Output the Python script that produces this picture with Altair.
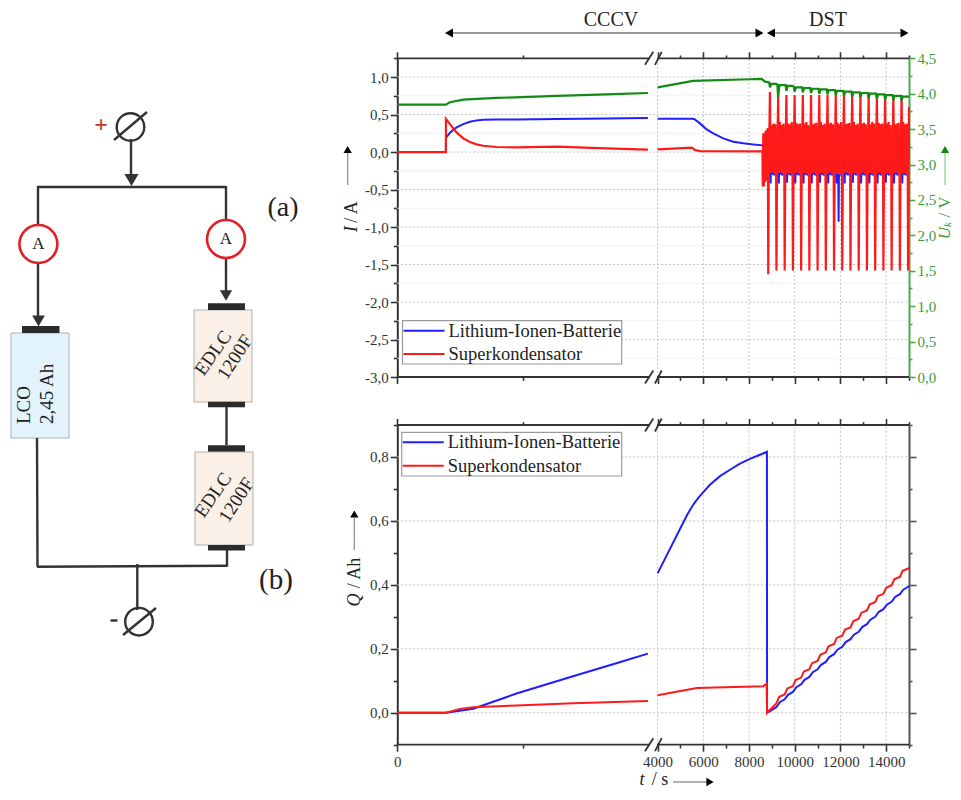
import altair as alt
import pandas as pd

# ------------------ data ------------------
# current I / A, left segment of the broken axis
bat_i_t_left = [0, 775, 776, 839, 945, 1052, 1158, 1264, 1370, 1582, 1901, 2538, 3334, 3998]
bat_i_left = [0, 0, 0.19, 0.257, 0.328, 0.373, 0.404, 0.422, 0.43, 0.435, 0.435, 0.44, 0.448, 0.453]
sc_i_t_left = [0, 775, 776, 839, 945, 1052, 1158, 1264, 1370, 1582, 1901, 2538, 3334, 3998]
sc_i_left = [0, 0, 0.44, 0.373, 0.262, 0.182, 0.133, 0.102, 0.084, 0.067, 0.062, 0.071, 0.049, 0.031]
u_t_left = [0, 775, 839, 1052, 1582, 2538, 3334, 3998]
u_left = [3.846, 3.846, 3.88, 3.917, 3.94, 3.97, 3.99, 4.01]

# current I / A, right segment (CCCV tail and DST cycles)
bat_i_t_right = [4000, 5500, 5600, 5854, 6147, 6436, 6874, 7311, 7749, 8186, 8596, 8620, 8700, 8840,
    8920, 8945, 8965, 8985, 9030, 9080,
    9280, 9305, 9325, 9345, 9390, 9440,
    9640, 9665, 9685, 9705, 9750, 9800,
    10000, 10025, 10045, 10065, 10110, 10160,
    10360, 10385, 10405, 10425, 10470, 10520,
    10720, 10745, 10765, 10785, 10830, 10880,
    11080, 11105, 11125, 11145, 11190, 11240,
    11440, 11465, 11485, 11505, 11550, 11600,
    11800, 11825, 11845, 11865, 11905, 11920, 11935, 11990,
    12160, 12185, 12205, 12225, 12270, 12320,
    12520, 12545, 12565, 12585, 12630, 12680,
    12880, 12905, 12925, 12945, 12990, 13040,
    13240, 13265, 13285, 13305, 13350, 13400,
    13600, 13625, 13645, 13665, 13710, 13760,
    13960, 13985, 14005, 14025, 14070, 14120,
    14320, 14345, 14365, 14385, 14430, 14480,
    14680, 14705, 14725, 14745, 14790, 14840,
    15000]
bat_i_right = [0.445, 0.445, 0.44, 0.382, 0.302, 0.249, 0.182, 0.137, 0.116, 0.102, 0.089, 0.0, -0.3, -0.3,
    -0.30, -0.42, -0.13, -0.30, -0.26, -0.30,
    -0.30, -0.42, -0.13, -0.30, -0.26, -0.30,
    -0.30, -0.41, -0.12, -0.30, -0.25, -0.30,
    -0.30, -0.42, -0.13, -0.30, -0.26, -0.30,
    -0.30, -0.42, -0.13, -0.30, -0.26, -0.30,
    -0.30, -0.42, -0.12, -0.30, -0.25, -0.30,
    -0.30, -0.41, -0.13, -0.30, -0.26, -0.30,
    -0.30, -0.42, -0.13, -0.30, -0.26, -0.30,
    -0.30, -0.42, -0.13, -0.30, -0.30, -0.93, -0.30, -0.30,
    -0.30, -0.42, -0.13, -0.30, -0.26, -0.30,
    -0.30, -0.41, -0.12, -0.30, -0.25, -0.30,
    -0.30, -0.42, -0.13, -0.30, -0.26, -0.30,
    -0.30, -0.42, -0.13, -0.30, -0.26, -0.30,
    -0.30, -0.42, -0.12, -0.30, -0.25, -0.30,
    -0.30, -0.41, -0.13, -0.30, -0.26, -0.30,
    -0.30, -0.42, -0.13, -0.30, -0.26, -0.30,
    -0.30, -0.42, -0.13, -0.30, -0.26, -0.30,
    -0.30]
sc_i_t_right = [4000, 5490, 5635, 5854, 8590,
    8600, 8625, 8650, 8675, 8700, 8725, 8750, 8775, 8800, 8825,
    8840, 8865, 8915, 8950, 8990, 9030, 9070, 9110, 9150, 9185,
    9200, 9225, 9275, 9310, 9350, 9390, 9430, 9470, 9510, 9545,
    9560, 9585, 9635, 9670, 9710, 9750, 9790, 9830, 9870, 9905,
    9920, 9945, 9995, 10030, 10070, 10110, 10150, 10190, 10230, 10265,
    10280, 10305, 10355, 10390, 10430, 10470, 10510, 10550, 10590, 10625,
    10640, 10665, 10715, 10750, 10790, 10830, 10870, 10910, 10950, 10985,
    11000, 11025, 11075, 11110, 11150, 11190, 11230, 11270, 11310, 11345,
    11360, 11385, 11435, 11470, 11510, 11550, 11590, 11630, 11670, 11705,
    11720, 11745, 11795, 11830, 11870, 11910, 11950, 11990, 12030, 12065,
    12080, 12105, 12155, 12190, 12230, 12270, 12310, 12350, 12390, 12425,
    12440, 12465, 12515, 12550, 12590, 12630, 12670, 12710, 12750, 12785,
    12800, 12825, 12875, 12910, 12950, 12990, 13030, 13070, 13110, 13145,
    13160, 13185, 13235, 13270, 13310, 13350, 13390, 13430, 13470, 13505,
    13520, 13545, 13595, 13630, 13670, 13710, 13750, 13790, 13830, 13865,
    13880, 13905, 13955, 13990, 14030, 14070, 14110, 14150, 14190, 14225,
    14240, 14265, 14315, 14350, 14390, 14430, 14470, 14510, 14550, 14585,
    14600, 14625, 14675, 14710, 14750, 14790, 14830, 14870, 14910, 14945,
    14960, 14985, 15000]
sc_i_right = [0.035, 0.058, 0.027, 0.013, 0.01,
    -0.46, 0.25, -0.46, 0.25, -0.40, 0.28, -0.38, 0.30, -0.36, 0.32,
    -1.63, -0.27, 0.80, -0.28, 0.36, -0.27, 0.38, -0.29, 0.37, -0.26,
    -1.58, -0.28, 0.76, -0.28, 0.40, -0.27, 0.36, -0.29, 0.38, -0.26,
    -1.58, -0.27, 0.76, -0.29, 0.38, -0.28, 0.37, -0.29, 0.40, -0.27,
    -1.58, -0.28, 0.76, -0.28, 0.39, -0.27, 0.37, -0.29, 0.38, -0.26,
    -1.58, -0.27, 0.76, -0.28, 0.38, -0.28, 0.40, -0.29, 0.36, -0.26,
    -1.58, -0.27, 0.76, -0.29, 0.37, -0.27, 0.38, -0.29, 0.39, -0.27,
    -1.58, -0.28, 0.76, -0.28, 0.40, -0.28, 0.36, -0.29, 0.38, -0.26,
    -1.58, -0.27, 0.76, -0.28, 0.38, -0.27, 0.39, -0.29, 0.37, -0.26,
    -1.58, -0.27, 0.76, -0.29, 0.39, -0.28, 0.37, -0.29, 0.40, -0.27,
    -1.58, -0.28, 0.76, -0.28, 0.37, -0.27, 0.38, -0.29, 0.39, -0.26,
    -1.58, -0.27, 0.76, -0.28, 0.40, -0.28, 0.36, -0.29, 0.38, -0.26,
    -1.58, -0.27, 0.76, -0.29, 0.38, -0.27, 0.39, -0.29, 0.37, -0.27,
    -1.58, -0.28, 0.76, -0.28, 0.37, -0.28, 0.40, -0.29, 0.38, -0.26,
    -1.58, -0.27, 0.76, -0.28, 0.39, -0.27, 0.37, -0.29, 0.38, -0.26,
    -1.58, -0.27, 0.76, -0.29, 0.38, -0.28, 0.40, -0.29, 0.36, -0.27,
    -1.58, -0.28, 0.76, -0.28, 0.37, -0.27, 0.38, -0.29, 0.39, -0.26,
    -1.58, -0.27, 0.76, -0.28, 0.40, -0.28, 0.37, -0.29, 0.38, -0.26,
    -1.58, -0.27, 0.60]
u_t_right = [4000, 5550, 8040, 8552, 8696,
    8880, 8915, 8970, 9180,
    9240, 9275, 9330, 9540,
    9600, 9635, 9690, 9900,
    9960, 9995, 10050, 10260,
    10320, 10355, 10410, 10620,
    10680, 10715, 10770, 10980,
    11040, 11075, 11130, 11340,
    11400, 11435, 11490, 11700,
    11760, 11795, 11850, 12060,
    12120, 12155, 12210, 12420,
    12480, 12515, 12570, 12780,
    12840, 12875, 12930, 13140,
    13200, 13235, 13290, 13500,
    13560, 13595, 13650, 13860,
    13920, 13955, 14010, 14220,
    14280, 14315, 14370, 14580,
    14640, 14675, 14730, 14940,
    15000]
u_right = [4.09, 4.18, 4.204, 4.21, 4.17,
    4.16, 4.09, 4.14, 4.14,
    4.13, 3.95, 4.12, 4.12,
    4.12, 4.04, 4.11, 4.11,
    4.10, 4.03, 4.09, 4.09,
    4.09, 4.02, 4.08, 4.08,
    4.08, 4.01, 4.07, 4.07,
    4.07, 4.00, 4.06, 4.06,
    4.06, 3.99, 4.05, 4.05,
    4.05, 3.98, 4.04, 4.04,
    4.04, 3.97, 4.03, 4.03,
    4.03, 3.96, 4.02, 4.02,
    4.02, 3.95, 4.01, 4.01,
    4.01, 3.94, 4.00, 4.00,
    4.00, 3.93, 3.99, 3.99,
    3.99, 3.92, 3.98, 3.98,
    3.98, 3.91, 3.97, 3.97,
    3.97, 3.91, 3.96, 3.96,
    3.96]

# charge Q / Ah
bat_q_t_left = [0, 775, 1211, 1901, 2803, 3599, 3998]
bat_q_left = [0, 0, 0.0126, 0.06, 0.114, 0.161, 0.185]
sc_q_t_left = [0, 775, 1000, 1211, 1901, 2803, 3998]
sc_q_left = [0, 0, 0.012, 0.017, 0.023, 0.03, 0.0366]
bat_q_t_right = [4000, 5300, 5562, 5780, 6000, 6291, 6729, 7166, 7603, 8040, 8478, 8784, 8790,
    8840, 8990, 9200, 9350, 9560, 9710, 9920, 10070, 10280, 10430, 10640, 10790, 11000, 11150,
    11360, 11510, 11720, 11870, 12080, 12230, 12440, 12590, 12800, 12950, 13160, 13310,
    13520, 13670, 13880, 14030, 14240, 14390, 14600, 14750, 14960, 15000]
bat_q_right = [0.436, 0.62, 0.651, 0.672, 0.69, 0.713, 0.74, 0.76, 0.779, 0.794, 0.807, 0.816, 0.0,
    0.002, 0.008, 0.018, 0.033, 0.042, 0.056, 0.065, 0.08, 0.089, 0.103, 0.112, 0.127, 0.136, 0.15,
    0.159, 0.174, 0.183, 0.197, 0.206, 0.221, 0.23, 0.244, 0.253, 0.268, 0.277, 0.291,
    0.30, 0.315, 0.324, 0.338, 0.347, 0.362, 0.371, 0.385, 0.394, 0.397]
sc_q_t_right = [4000, 5710, 8622, 8770, 8790,
    8840, 8960, 9200, 9320, 9560, 9680, 9920, 10040, 10280, 10400, 10640, 10760, 11000, 11120,
    11360, 11480, 11720, 11840, 12080, 12200, 12440, 12560, 12800, 12920, 13160, 13280,
    13520, 13640, 13880, 14000, 14240, 14360, 14600, 14720, 14960, 15000]
sc_q_right = [0.055, 0.077, 0.083, 0.091, 0.0,
    0.005, 0.012, 0.03, 0.05, 0.057, 0.076, 0.083, 0.102, 0.11, 0.129, 0.136, 0.155, 0.162, 0.181,
    0.189, 0.208, 0.215, 0.234, 0.241, 0.26, 0.267, 0.286, 0.294, 0.313, 0.32, 0.339,
    0.346, 0.365, 0.372, 0.391, 0.399, 0.418, 0.425, 0.444, 0.451, 0.454]

i_major = [-3.0, -2.5, -2.0, -1.5, -1.0, -0.5, 0.0, 0.5, 1.0]
i_minor = [-2.75, -2.25, -1.75, -1.25, -0.75, -0.25, 0.25, 0.75, 1.25]
u_major = [0.0, 0.5, 1.0, 1.5, 2.0, 2.5, 3.0, 3.5, 4.0, 4.5]
u_minor = [0.25, 0.75, 1.25, 1.75, 2.25, 2.75, 3.25, 3.75, 4.25]
q_major = [0.0, 0.2, 0.4, 0.6, 0.8]
q_minor = [-0.1, 0.1, 0.3, 0.5, 0.7, 0.9]
t_major = [0, 4000, 6000, 8000, 10000, 12000, 14000]
t_grid = [4000, 6000, 8000, 10000, 12000, 14000]
t_minor = [2000, 5000, 7000, 9000, 11000, 13000, 15000]

SERIES_NAMES = ["Lithium-Ionen-Batterie", "Superkondensator"]
SECTION_NAMES = ["CCCV", "DST"]

# ------------------ layout and styles ------------------
W, H = 945, 784
M = 8  # page margin: page pixel minus M is chart pixel
FONT = "Liberation Serif"
DARK = "#333333"
BLUE = "#1f1fff"
RED = "#ff1a1a"
GREEN = "#138a13"
GREEN_AX = "#4fa84f"
GREEN_TX = "#3c9c3c"

XL, XB1, XB2, XR = 397.3, 648.0, 657.6, 909.0
T_TOP, T_BOT = 58.3, 377.0
B_TOP, B_BOT = 425.0, 744.7

xs = alt.Scale(domain=[0, 3999, 4000, 15000], range=[XL - M, XB1 - M, XB2 - M, XR - M], nice=False, zero=False, clamp=False)
sI = alt.Scale(domain=[-3, 1.25], range=[T_BOT - M, T_TOP - M], nice=False, zero=False)
sU = alt.Scale(domain=[0, 4.5], range=[T_BOT - M, T_TOP - M], nice=False, zero=False)
sQ = alt.Scale(domain=[-0.1, 0.9], range=[B_BOT - M, B_TOP - M], nice=False, zero=False)
NOAX = None

ONE = pd.DataFrame({"a": [0]})
layers = []


def seg(x1, y1, x2, y2, color=DARK, w=2.0, dash=None):
    kw = {"strokeDash": dash} if dash else {}
    layers.append(alt.Chart(ONE).mark_rule(color=color, strokeWidth=w, **kw).encode(
        x=alt.value(x1 - M), x2=alt.value(x2 - M), y=alt.value(y1 - M), y2=alt.value(y2 - M)))


def box(x1, y1, x2, y2, fill, stroke=None, sw=1.0):
    kw = {"stroke": stroke, "strokeWidth": sw} if stroke else {}
    layers.append(alt.Chart(ONE).mark_rect(fill=fill, **kw).encode(
        x=alt.value(x1 - M), x2=alt.value(x2 - M), y=alt.value(y1 - M), y2=alt.value(y2 - M)))


def txt(s, x, y, size=16, color="#222222", angle=0, italic=False, weight="normal", align="center"):
    layers.append(alt.Chart(ONE).mark_text(
        text=s, font=FONT, fontSize=size, color=color, angle=angle, align=align, baseline="middle",
        fontStyle="italic" if italic else "normal", fontWeight=weight
    ).encode(x=alt.value(x - M), y=alt.value(y - M)))


def sym(shape, x, y, size, fill=None, stroke=None, sw=2.0):
    if fill:
        mk = alt.MarkDef(type="point", shape=shape, filled=True, fill=fill, size=size, opacity=1, strokeWidth=0)
    else:
        mk = alt.MarkDef(type="point", shape=shape, filled=False, stroke=stroke, strokeWidth=sw, size=size, opacity=1)
    layers.append(alt.Chart(ONE, mark=mk).encode(x=alt.value(x - M), y=alt.value(y - M)))


def y_axis(vals, scale, orient, offset, size, color, label=False, domain=False, lcolor=DARK, dec=1):
    ax = dict(orient=orient, offset=offset, values=vals, tickSize=size, tickColor=color, tickWidth=1.6,
              grid=False, title=None, domain=domain, labels=label)
    if domain:
        ax.update(domainColor=color, domainWidth=2)
    if label:
        ax.update(labelFont=FONT, labelFontSize=15, labelColor=lcolor, labelPadding=2, labelFlush=False,
                  labelOverlap=False,
                  labelExpr="replace(replace(format(datum.value,'.1f'),'.',','),'\u2212','-')")
    layers.append(alt.Chart(pd.DataFrame({"v": vals})).mark_rule(opacity=0).encode(
        y=alt.Y("v:Q", scale=scale, axis=alt.Axis(**ax))))


def x_axis(vals, orient, offset, size, label=False):
    ax = dict(orient=orient, offset=offset, values=vals, tickSize=size, tickColor=DARK, tickWidth=1.6,
              grid=False, title=None, domain=False, labels=label)
    if label:
        ax.update(labelFont=FONT, labelFontSize=15, labelColor=DARK, labelPadding=3, labelOverlap=False,
                  labelFlush=False, labelExpr="format(datum.value,'d')")
    layers.append(alt.Chart(pd.DataFrame({"v": vals})).mark_rule(opacity=0).encode(
        x=alt.X("v:Q", scale=xs, axis=alt.Axis(**ax))))


def hgrid(vals, scale, color):
    df = pd.DataFrame({"v": vals, "a": 0, "b": 15000})
    layers.append(alt.Chart(df).mark_rule(color=color, strokeWidth=1, strokeDash=[2, 2]).encode(
        y=alt.Y("v:Q", scale=scale, axis=NOAX), x=alt.X("a:Q", scale=xs, axis=NOAX), x2="b:Q"))


def vgrid(vals, scale, low, high):
    df = pd.DataFrame({"v": vals, "a": low, "b": high})
    layers.append(alt.Chart(df).mark_rule(color="#c4c4c4", strokeWidth=1, strokeDash=[2, 2]).encode(
        x=alt.X("v:Q", scale=xs, axis=NOAX), y=alt.Y("a:Q", scale=scale, axis=NOAX), y2="b:Q"))


def series(tl, vl, tr, vr, scale, color, w=2.0):
    df = pd.concat([
        pd.DataFrame({"t": tl, "v": vl, "part": "left"}),
        pd.DataFrame({"t": tr, "v": vr, "part": "right"}),
    ])
    layers.append(alt.Chart(df).mark_line(color=color, strokeWidth=w).encode(
        x=alt.X("t:Q", scale=xs, axis=NOAX, sort=None),
        y=alt.Y("v:Q", scale=scale, axis=NOAX),
        detail="part:N"))


def legend(x1, y1, x2, y2, row1, row2):
    box(x1, y1, x2, y2, "#ffffff", "#9a9a9a", 1.2)
    seg(x1 + 1, row1, x1 + 42, row1, BLUE, 2.0)
    seg(x1 + 1, row2, x1 + 42, row2, RED, 2.0)
    txt(SERIES_NAMES[0], x1 + 46, row1, 18.5, "#222222", align="left")
    txt(SERIES_NAMES[1], x1 + 46, row2, 18.5, "#222222", align="left")


def breaks(y):
    seg(645, y + 6.5, 653.3, y - 6.5, DARK, 1.8)
    seg(655, y + 6.5, 661.7, y - 6.5, DARK, 1.8)


# ------------------ grids ------------------
hgrid([-2.75, -2.25, -1.75, -1.25, -0.75, -0.25, 0.25, 0.75], sI, "#e6e6e6")
hgrid([-2.5, -2.0, -1.5, -1.0, -0.5, 0.0, 0.5, 1.0], sI, "#c4c4c4")
vgrid(t_grid, sI, -3, 1.25)
hgrid(q_major, sQ, "#c4c4c4")
vgrid(t_grid, sQ, -0.1, 0.9)

# ------------------ series ------------------
series(bat_i_t_left, bat_i_left, bat_i_t_right, bat_i_right, sI, BLUE)
series(sc_i_t_left, sc_i_left, sc_i_t_right, sc_i_right, sI, RED, 2.2)
series(u_t_left, u_left, u_t_right, u_right, sU, GREEN, 2.2)
series(bat_q_t_left, bat_q_left, bat_q_t_right, bat_q_right, sQ, BLUE)
series(sc_q_t_left, sc_q_left, sc_q_t_right, sc_q_right, sQ, RED)

# ------------------ axes ------------------
LEFT_OFF = -(XL - M)
RIGHT_OFF = -(W - (XR - M))
y_axis(i_major, sI, "left", LEFT_OFF, 7, DARK, label=True, domain=True)
y_axis(i_minor, sI, "left", LEFT_OFF, 4, DARK)
y_axis(u_major, sU, "right", RIGHT_OFF, 6, GREEN_AX, label=True, domain=True, lcolor=GREEN_TX)
y_axis(u_minor, sU, "right", RIGHT_OFF, 3, GREEN_AX)
y_axis(q_major, sQ, "left", LEFT_OFF, 7, DARK, label=True, domain=True)
y_axis(q_minor, sQ, "left", LEFT_OFF, 4, DARK)
y_axis(q_major, sQ, "right", RIGHT_OFF, 7, "#555555", domain=True)
y_axis(q_minor, sQ, "right", RIGHT_OFF, 3, "#555555")

x_axis(t_major, "top", -(T_TOP - M), 6.5)
x_axis(t_minor, "top", -(T_TOP - M), 3.3)
x_axis(t_major, "bottom", -(H - (T_BOT - M)), 6.5)
x_axis(t_minor, "bottom", -(H - (T_BOT - M)), 3.3)
x_axis(t_major, "top", -(B_TOP - M), 6.5)
x_axis(t_minor, "top", -(B_TOP - M), 3.3)
x_axis(t_major, "bottom", -(H - (B_BOT - M)), 6.5, label=True)
x_axis(t_minor, "bottom", -(H - (B_BOT - M)), 3.3)

for yy in (T_TOP, T_BOT, B_TOP, B_BOT):
    seg(XL, yy, 650, yy, DARK, 1.8)
    seg(657, yy, XR, yy, DARK, 1.8)
    breaks(yy)

# ------------------ legends ------------------
legend(402.5, 320.7, 621.7, 364, 330.7, 354)
legend(401.7, 432.3, 621.7, 476, 442.3, 465.7)

# ------------------ axis titles ------------------
txt("I", 352, 229, 18, angle=270, italic=True)
txt("/ A", 352, 212, 18, angle=270)
seg(347.7, 153, 347.7, 185, "#888888", 1.2)
sym("triangle-up", 347.7, 149.5, 70, fill="#000000")

txt("U", 945, 233, 17, GREEN_TX, angle=270, italic=True)
txt("k", 948, 224.5, 11, GREEN_TX, angle=270, italic=True)
txt("/ V", 945, 207, 17, GREEN_TX, angle=270)
seg(945, 153, 945, 185, "#8cc98c", 1.2)
sym("triangle-up", 945, 149.5, 70, fill=GREEN)

txt("Q", 355, 600, 18, angle=270, italic=True)
txt("/ Ah", 355, 573, 18, angle=270)
seg(354.3, 518, 354.3, 550, "#888888", 1.2)
sym("triangle-up", 354.3, 514, 70, fill="#000000")

txt("t", 642, 780, 18, italic=True)
txt("/ s", 660, 780, 18)
seg(673, 782, 707, 782, "#999999", 1.6)
sym("triangle-right", 710, 782, 70, fill="#000000")

# ------------------ section arrows ------------------
txt(SECTION_NAMES[0], 611, 20, 20)
txt(SECTION_NAMES[1], 828, 19.5, 20)
seg(450, 33, 758, 33, "#777777", 1.6)
sym("triangle-left", 449, 33, 85, fill="#000000")
sym("triangle-right", 759.5, 33, 85, fill="#000000")
seg(772, 33, 904, 33, "#777777", 1.6)
sym("triangle-left", 771, 33, 85, fill="#000000")
sym("triangle-right", 904.5, 33, 85, fill="#000000")

# ------------------ circuit schematic ------------------
WIRE = "#333333"
seg(131, 139, 131, 176, WIRE, 2.4)
sym("triangle-down", 131.5, 180, 200, fill=WIRE)
seg(37, 187, 226, 187, WIRE, 2.4)
seg(38, 186, 38, 225, WIRE, 2.4)
seg(226, 186, 226, 220, WIRE, 2.4)
seg(38, 263, 38, 320, WIRE, 2.4)
seg(226, 258, 226, 295, WIRE, 2.4)
sym("triangle-down", 38.5, 321, 160, fill=WIRE)
sym("triangle-down", 226, 295.5, 150, fill=WIRE)

box(11, 333, 69, 438, "#e3f3fb", "#b0b0b0", 1.0)
box(22, 326, 59.5, 333, "#2b2b2b")
seg(37, 438, 37.5, 566.7, WIRE, 2.4)
seg(37, 566.7, 227.5, 565.7, WIRE, 2.4)
seg(227, 550, 227, 566.5, WIRE, 2.4)
seg(137.3, 564, 137.3, 610, WIRE, 2.4)

box(194, 310, 252, 402, "#fbf0e7", "#b0b0b0", 1.0)
box(208, 303.3, 245, 310, "#2b2b2b")
box(208, 401.7, 245, 407.3, "#2b2b2b")
seg(226.5, 407, 226.5, 445, WIRE, 2.4)
box(208, 445.3, 245, 452, "#2b2b2b")
box(195, 452, 253, 545, "#fbf0e7", "#b0b0b0", 1.0)
box(208, 545, 245, 550.5, "#2b2b2b")

sym("circle", 130.5, 127, 760, stroke=WIRE, sw=2.4)
seg(114, 140, 147, 112, WIRE, 2.4)
txt("+", 101, 124.5, 24, "#c0392b", weight="bold")
sym("circle", 139, 621.7, 760, stroke=WIRE, sw=2.4)
seg(123, 635, 156, 608, WIRE, 2.4)
seg(110.5, 620.5, 117.5, 620.5, WIRE, 2.4)

for cx, cy in ((38.4, 244), (226, 239)):
    sym("circle", cx, cy, 1440, fill="#ffffff")
    sym("circle", cx, cy, 1440, stroke="#e01f26", sw=2.6)
    txt("A", cx, cy, 17, "#222222")

txt("LCO", 24, 424, 19, "#222222", angle=270, align="left")
txt("2,45 Ah", 47, 424, 19, "#222222", angle=270, align="left")
txt("EDLC", 213, 353, 19, "#222222", angle=305)
txt("1200F", 235, 357, 19, "#222222", angle=303)
txt("EDLC", 213, 495, 19, "#222222", angle=305)
txt("1200F", 236.5, 500, 19, "#222222", angle=303)
txt("(a)", 283, 208, 28, "#222222")
txt("(b)", 276, 580, 29, "#222222")

chart = alt.layer(*layers).resolve_scale(x="independent", y="independent").properties(
    width=W, height=H, padding=0, autosize=alt.AutoSizeParams(type="none"),
    background="#ffffff"
).configure_view(stroke=None)

chart.save("out.html", embed_options={"renderer": "svg", "actions": False})
